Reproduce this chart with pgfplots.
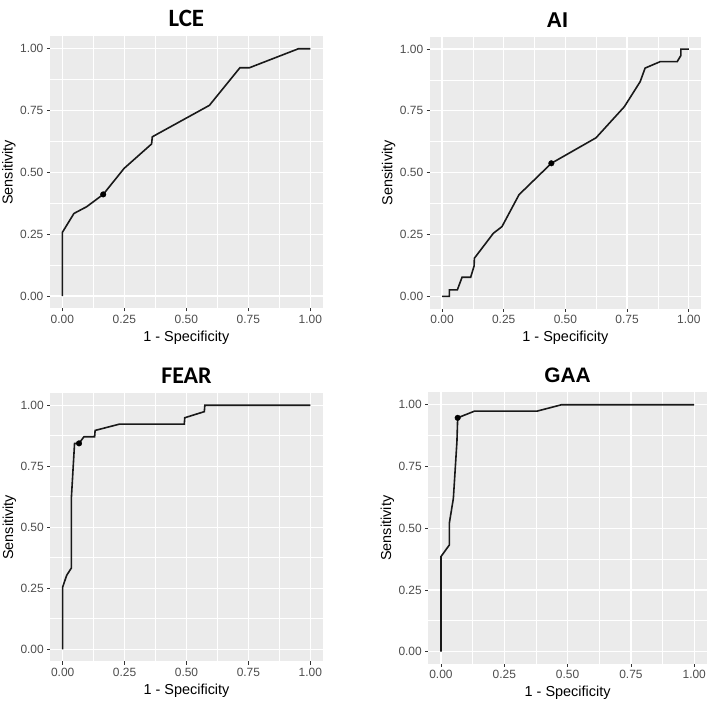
\documentclass[border=0pt]{standalone}
\usepackage{fontspec}
\setmainfont{Liberation Sans}
\newfontfamily\calibri{Carlito}
\usepackage{pgfplots}
\pgfplotsset{compat=1.18}

\definecolor{ggbg}{HTML}{EBEBEB}
\definecolor{ggtext}{HTML}{4D4D4D}
\definecolor{ggtick}{HTML}{333333}

\pgfplotsset{
  roc/.style={
    scale only axis,
    xmin=-0.05, xmax=1.05, ymin=-0.05, ymax=1.05,
    axis background/.style={fill=ggbg},
    axis line style={draw=none},
    xtick={0,0.25,0.5,0.75,1},
    ytick={0,0.25,0.5,0.75,1},
    minor xtick={0.125,0.375,0.625,0.875},
    minor ytick={0.125,0.375,0.625,0.875},
    grid=both,
    major grid style={white, line width=1.2bp},
    minor grid style={white, line width=0.6bp},
    tick align=outside,
    major tick length=3bp, minor tick length=0pt,
    tick style={ggtick, line width=0.8bp},
    xtick pos=left, ytick pos=left,
    /pgf/number format/assume math mode=true,
    tick label style={font=\fontsize{12}{14}\selectfont, text=ggtext,
      /pgf/number format/fixed, /pgf/number format/fixed zerofill,
      /pgf/number format/precision=2},
    xlabel={1 - Specificity},
    ylabel={Sensitivity},
    every axis x label/.style={at={(axis description cs:0.5,0)},
      yshift=-29bp, anchor=center, font=\fontsize{14.5}{17}\selectfont},
    every axis y label/.style={at={(axis description cs:0,0.5)},
      xshift=-41bp, rotate=90, anchor=center, font=\fontsize{14.5}{17}\selectfont},
  },
  curve/.style={black!90, line width=1.6bp, mark=none},
  dot/.style={only marks, mark=*, mark size=2.8bp, black},
}

\begin{document}
\begin{tikzpicture}
\useasboundingbox (0,0) rectangle (708bp,704bp);

% LCE
\begin{axis}[roc, at={(49.9bp,395.6bp)}, anchor=south west,
  width=272.8bp, height=272bp,
  title={LCE}, title style={font=\calibri\bfseries\fontsize{25}{28}\selectfont}]
\addplot[curve] coordinates {(0,0) (0,0.257) (0.047,0.334) (0.098,0.361)
  (0.165,0.411) (0.249,0.516) (0.360,0.615) (0.363,0.644) (0.593,0.771)
  (0.716,0.923) (0.754,0.923) (0.952,1) (1,1)};
\addplot[dot] coordinates {(0.165,0.411)};
\end{axis}

% AI
\begin{axis}[roc, at={(429.7bp,395.3bp)}, anchor=south west,
  width=271.4bp, height=272bp,
  title={AI}, title style={font=\bfseries\fontsize{21.5}{24}\selectfont, xshift=-8bp}]
\addplot[curve] coordinates {(0,0) (0.03,0) (0.03,0.026) (0.062,0.026)
  (0.081,0.077) (0.116,0.077) (0.13,0.123) (0.131,0.154) (0.208,0.255)
  (0.243,0.282) (0.312,0.411) (0.443,0.538) (0.624,0.641) (0.739,0.767)
  (0.803,0.868) (0.823,0.923) (0.884,0.949) (0.953,0.949) (0.968,0.974)
  (0.968,1) (1,1)};
\addplot[dot] coordinates {(0.443,0.538)};
\end{axis}

% FEAR
\begin{axis}[roc, at={(50.3bp,42.5bp)}, anchor=south west,
  width=272.4bp, height=268.4bp,
  title={FEAR}, title style={font=\calibri\bfseries\fontsize{24}{27}\selectfont}]
\addplot[curve] coordinates {(0,0) (0,0.255) (0.016,0.303) (0.035,0.333)
  (0.035,0.619) (0.048,0.844) (0.066,0.844) (0.086,0.871) (0.129,0.871)
  (0.131,0.897) (0.230,0.923) (0.491,0.923) (0.493,0.949) (0.572,0.974)
  (0.574,1) (1,1)};
\addplot[dot] coordinates {(0.066,0.844)};
\end{axis}

% GAA
\begin{axis}[roc, at={(428.3bp,40bp)}, anchor=south west,
  width=278.6bp, height=271.6bp,
  title={GAA}, title style={font=\bfseries\fontsize{21}{24}\selectfont}]
\addplot[curve] coordinates {(0,0) (0,0.385) (0.033,0.432) (0.033,0.52)
  (0.049,0.621) (0.063,0.85) (0.066,0.947) (0.132,0.974) (0.379,0.974)
  (0.476,1) (1,1)};
\addplot[dot] coordinates {(0.066,0.947)};
\end{axis}
\end{tikzpicture}
\end{document}
